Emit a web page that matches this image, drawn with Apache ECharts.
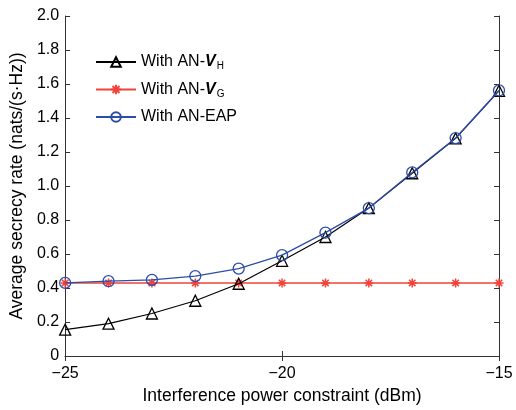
<!DOCTYPE html>
<html><head><meta charset="utf-8">
<script src="https://cdn.jsdelivr.net/npm/echarts@6/dist/echarts.min.js"></script>
<style>html,body{margin:0;padding:0;background:#fff}#c{width:516px;height:410px}</style>
</head><body><div id="c"></div>
<script>
const xValues = [-25, -24, -23, -22, -21, -20, -19, -18, -17, -16, -15];
const withVH = [0.155, 0.19, 0.25, 0.325, 0.425, 0.56, 0.70, 0.87, 1.075, 1.28, 1.56];
const withVG = [0.43, 0.43, 0.43, 0.43, 0.43, 0.43, 0.43, 0.43, 0.43, 0.43, 0.43];
const withEAP = [0.43, 0.44, 0.448, 0.47, 0.514, 0.593, 0.726, 0.87, 1.08, 1.282, 1.562];
const xTicks = [-25, -20, -15];
const yTicks = [0, 0.2, 0.4, 0.6, 0.8, 1.0, 1.2, 1.4, 1.6, 1.8, 2.0];

const FONT = 'Liberation Sans, Arial, sans-serif';
const pair = v => xValues.map((x, i) => [x, v[i]]);
const asterisk = 'path://M0,-5L0,5M-5,0L5,0M-3.6,-3.6L3.6,3.6M-3.6,3.6L3.6,-3.6';
const black = '#000000', red = '#f0443a', blue = '#2e4da8';

const chart = echarts.init(document.getElementById('c'));
const axisCommon = {
  axisLine: {show: true, lineStyle: {color: '#333', width: 1}},
  axisTick: {show: true, inside: true, length: 5, lineStyle: {color: '#333'}},
  splitLine: {show: false},
};
chart.setOption({
  animation: false,
  grid: {left: 62, right: 17, top: 16, bottom: 49},
  legend: {
    orient: 'vertical', left: 95, top: 54, padding: 0, itemWidth: 40, itemHeight: 12, itemGap: 10,
    data: ['VH', 'VG', 'EAP'],
    formatter: n => n === 'EAP' ? '{t|With AN-EAP}' : '{t|With AN-}{v|V}{s|' + n[1] + '}',
    textStyle: {
      fontFamily: FONT, fontSize: 16, color: '#000',
      rich: {
        t: {fontFamily: FONT, fontSize: 16, color: '#000'},
        v: {fontFamily: FONT, fontSize: 16, color: '#000', fontWeight: 'bold', fontStyle: 'italic'},
        s: {fontFamily: FONT, fontSize: 10, color: '#000', padding: [9, 0, 0, 1]}
      }
    }
  },
  xAxis: [{
    type: 'value', min: -25, max: -15, interval: 5, position: 'bottom',
    name: 'Interference power constraint (dBm)', nameLocation: 'middle', nameGap: 31,
    nameTextStyle: {fontFamily: FONT, fontSize: 17.5, color: '#000'},
    axisLabel: {fontFamily: FONT, fontSize: 16, color: '#000', margin: 10,
      formatter: v => (v < 0 ? '\u2212' + Math.abs(v) : String(v))},
    ...axisCommon
  }, {
    type: 'value', min: -25, max: -15, interval: 5, position: 'top',
    axisLabel: {show: false}, ...axisCommon
  }],
  yAxis: [{
    type: 'value', min: 0, max: 2, interval: 0.2, position: 'left',
    name: 'Average secrecy rate (nats/(s\u00b7Hz))', nameLocation: 'middle', nameGap: 35,
    nameTextStyle: {fontFamily: FONT, fontSize: 17.5, color: '#000'},
    axisLabel: {fontFamily: FONT, fontSize: 16, color: '#000', margin: 6,
      formatter: v => (v === 0 ? '0' : v.toFixed(1))},
    ...axisCommon
  }, {
    type: 'value', min: 0, max: 2, interval: 0.2, position: 'right',
    axisLabel: {show: false}, ...axisCommon
  }],
  series: [
    {name: 'VH', type: 'line', data: pair(withVH), symbol: 'triangle', symbolSize: 11,
      lineStyle: {color: black, width: 1.2},
      itemStyle: {color: 'rgba(255,255,255,0)', borderColor: black, borderWidth: 1.3}, z: 3},
    {name: 'VG', type: 'line', data: pair(withVG), symbol: asterisk, symbolSize: 9,
      lineStyle: {color: red, width: 1.5},
      itemStyle: {color: red, borderColor: red, borderWidth: 1.5}, z: 2},
    {name: 'EAP', type: 'line', data: pair(withEAP), symbol: 'circle', symbolSize: 11,
      lineStyle: {color: blue, width: 1.3},
      itemStyle: {color: 'rgba(255,255,255,0)', borderColor: blue, borderWidth: 1.3}, z: 4}
  ]
});
</script></body></html>
